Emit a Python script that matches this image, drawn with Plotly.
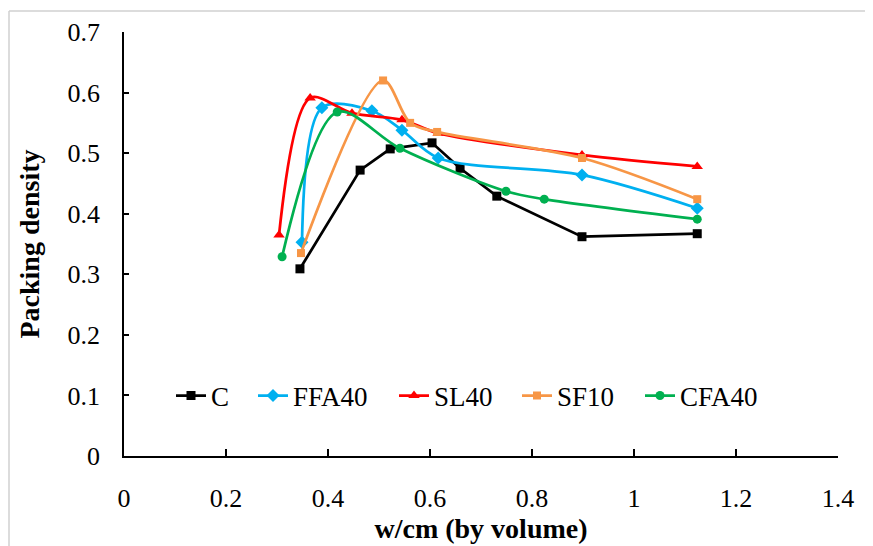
import plotly.graph_objects as go

# ---- data ----
C_x = [0.345, 0.463, 0.522, 0.604, 0.659, 0.731, 0.898, 1.124]
C_y = [0.309, 0.472, 0.507, 0.517, 0.475, 0.429, 0.362, 0.367]

FFA40_x = [0.349, 0.388, 0.486, 0.545, 0.616, 0.898, 1.124]
FFA40_y = [0.353, 0.575, 0.570, 0.538, 0.492, 0.464, 0.409]

SL40_x = [0.304, 0.365, 0.447, 0.545, 0.616, 0.898, 1.124]
SL40_y = [0.365, 0.591, 0.566, 0.555, 0.533, 0.497, 0.478]

SF10_x = [0.347, 0.508, 0.561, 0.614, 0.898, 1.124]
SF10_y = [0.335, 0.620, 0.550, 0.535, 0.492, 0.424]

CFA40_x = [0.310, 0.418, 0.541, 0.749, 0.824, 1.124]
CFA40_y = [0.329, 0.568, 0.508, 0.437, 0.424, 0.391]

x_ticks = [0, 0.2, 0.4, 0.6, 0.8, 1.0, 1.2, 1.4]
y_ticks = [0, 0.1, 0.2, 0.3, 0.4, 0.5, 0.6, 0.7]

FONT = "Liberation Serif, Times New Roman, serif"

series = [
    ("C", C_x, C_y, "#000000", "square", 9, "linear", "legend"),
    ("FFA40", FFA40_x, FFA40_y, "#00B0F0", "diamond", 10, "spline", "legend2"),
    ("SL40", SL40_x, SL40_y, "#FF0000", "triangle-up", 10, "spline", "legend3"),
    ("SF10", SF10_x, SF10_y, "#F79646", "square", 8, "spline", "legend4"),
    ("CFA40", CFA40_x, CFA40_y, "#00B050", "circle", 9, "spline", "legend5"),
]

fig = go.Figure()
for name, xs, ys, col, sym, sz, shape, leg in series:
    line = dict(color=col, width=2.75, shape=shape)
    if shape == "spline":
        line["smoothing"] = 0.9
    fig.add_trace(go.Scatter(
        x=xs, y=ys, name=name, mode="lines+markers",
        line=line,
        marker=dict(symbol=sym, size=sz, color=col, line=dict(width=0)),
        legend=leg,
    ))

# page body has an 8px margin, so the figure is drawn 8px in from the viewport
OFF = 8
W, H = 865, 538
L, R, T, B = 116, 35, 24, 90
pw = W - L - R
ph = H - T - B

def px_to_paper_x(px):
    return (px - OFF - L) / pw

def px_to_paper_y(py):
    return (H - B - (py - OFF)) / ph

leg_common = dict(
    font=dict(family=FONT, size=27, color="#000000"),
    bgcolor="rgba(0,0,0,0)", borderwidth=0,
    xanchor="left", yanchor="middle",
    y=px_to_paper_y(396), itemwidth=30,
)
text_starts = [211, 293, 434, 557, 680]
leg_keys = ["legend", "legend2", "legend3", "legend4", "legend5"]
layout_legends = {}
for key, ts in zip(leg_keys, text_starts):
    d = dict(leg_common)
    d["x"] = px_to_paper_x(ts - 40)
    layout_legends[key] = d

fig.update_layout(
    width=W, height=H,
    margin=dict(l=L, r=R, t=T, b=B, autoexpand=False),
    paper_bgcolor="white", plot_bgcolor="white",
    font=dict(family=FONT, size=26, color="#000000"),
    showlegend=True,
    xaxis=dict(
        range=[0, 1.4], tickvals=x_ticks, ticktext=[f"{v:g}" for v in x_ticks],
        showgrid=False, zeroline=False, automargin=False,
        showline=True, linecolor="#000000", linewidth=1.5,
        ticks="inside", ticklen=7, tickwidth=1.5, tickcolor="#000000",
        ticklabelstandoff=18,
        tickfont=dict(family=FONT, size=26),
        title=dict(text="<b>w/cm (by volume)</b>", font=dict(family=FONT, size=28), standoff=6),
    ),
    yaxis=dict(
        range=[0, 0.7], tickvals=y_ticks, ticktext=[f"{v:g}" for v in y_ticks],
        showgrid=False, zeroline=False, automargin=False,
        showline=True, linecolor="#000000", linewidth=1.5,
        ticks="inside", ticklen=5, tickwidth=1.5, tickcolor="#000000",
        ticklabelstandoff=17,
        tickfont=dict(family=FONT, size=26),
        title=dict(text="<b>Packing density</b>", font=dict(family=FONT, size=28), standoff=20),
    ),
    shapes=[
        dict(type="line", xref="paper", yref="paper",
             x0=px_to_paper_x(9), x1=px_to_paper_x(880),
             y0=px_to_paper_y(11), y1=px_to_paper_y(11),
             line=dict(color="#D0D0D0", width=1.5)),
        dict(type="line", xref="paper", yref="paper",
             x0=px_to_paper_x(9), x1=px_to_paper_x(9),
             y0=px_to_paper_y(11), y1=px_to_paper_y(560),
             line=dict(color="#D0D0D0", width=1.5)),
    ],
    **layout_legends,
)

fig.write_html("out.html")
